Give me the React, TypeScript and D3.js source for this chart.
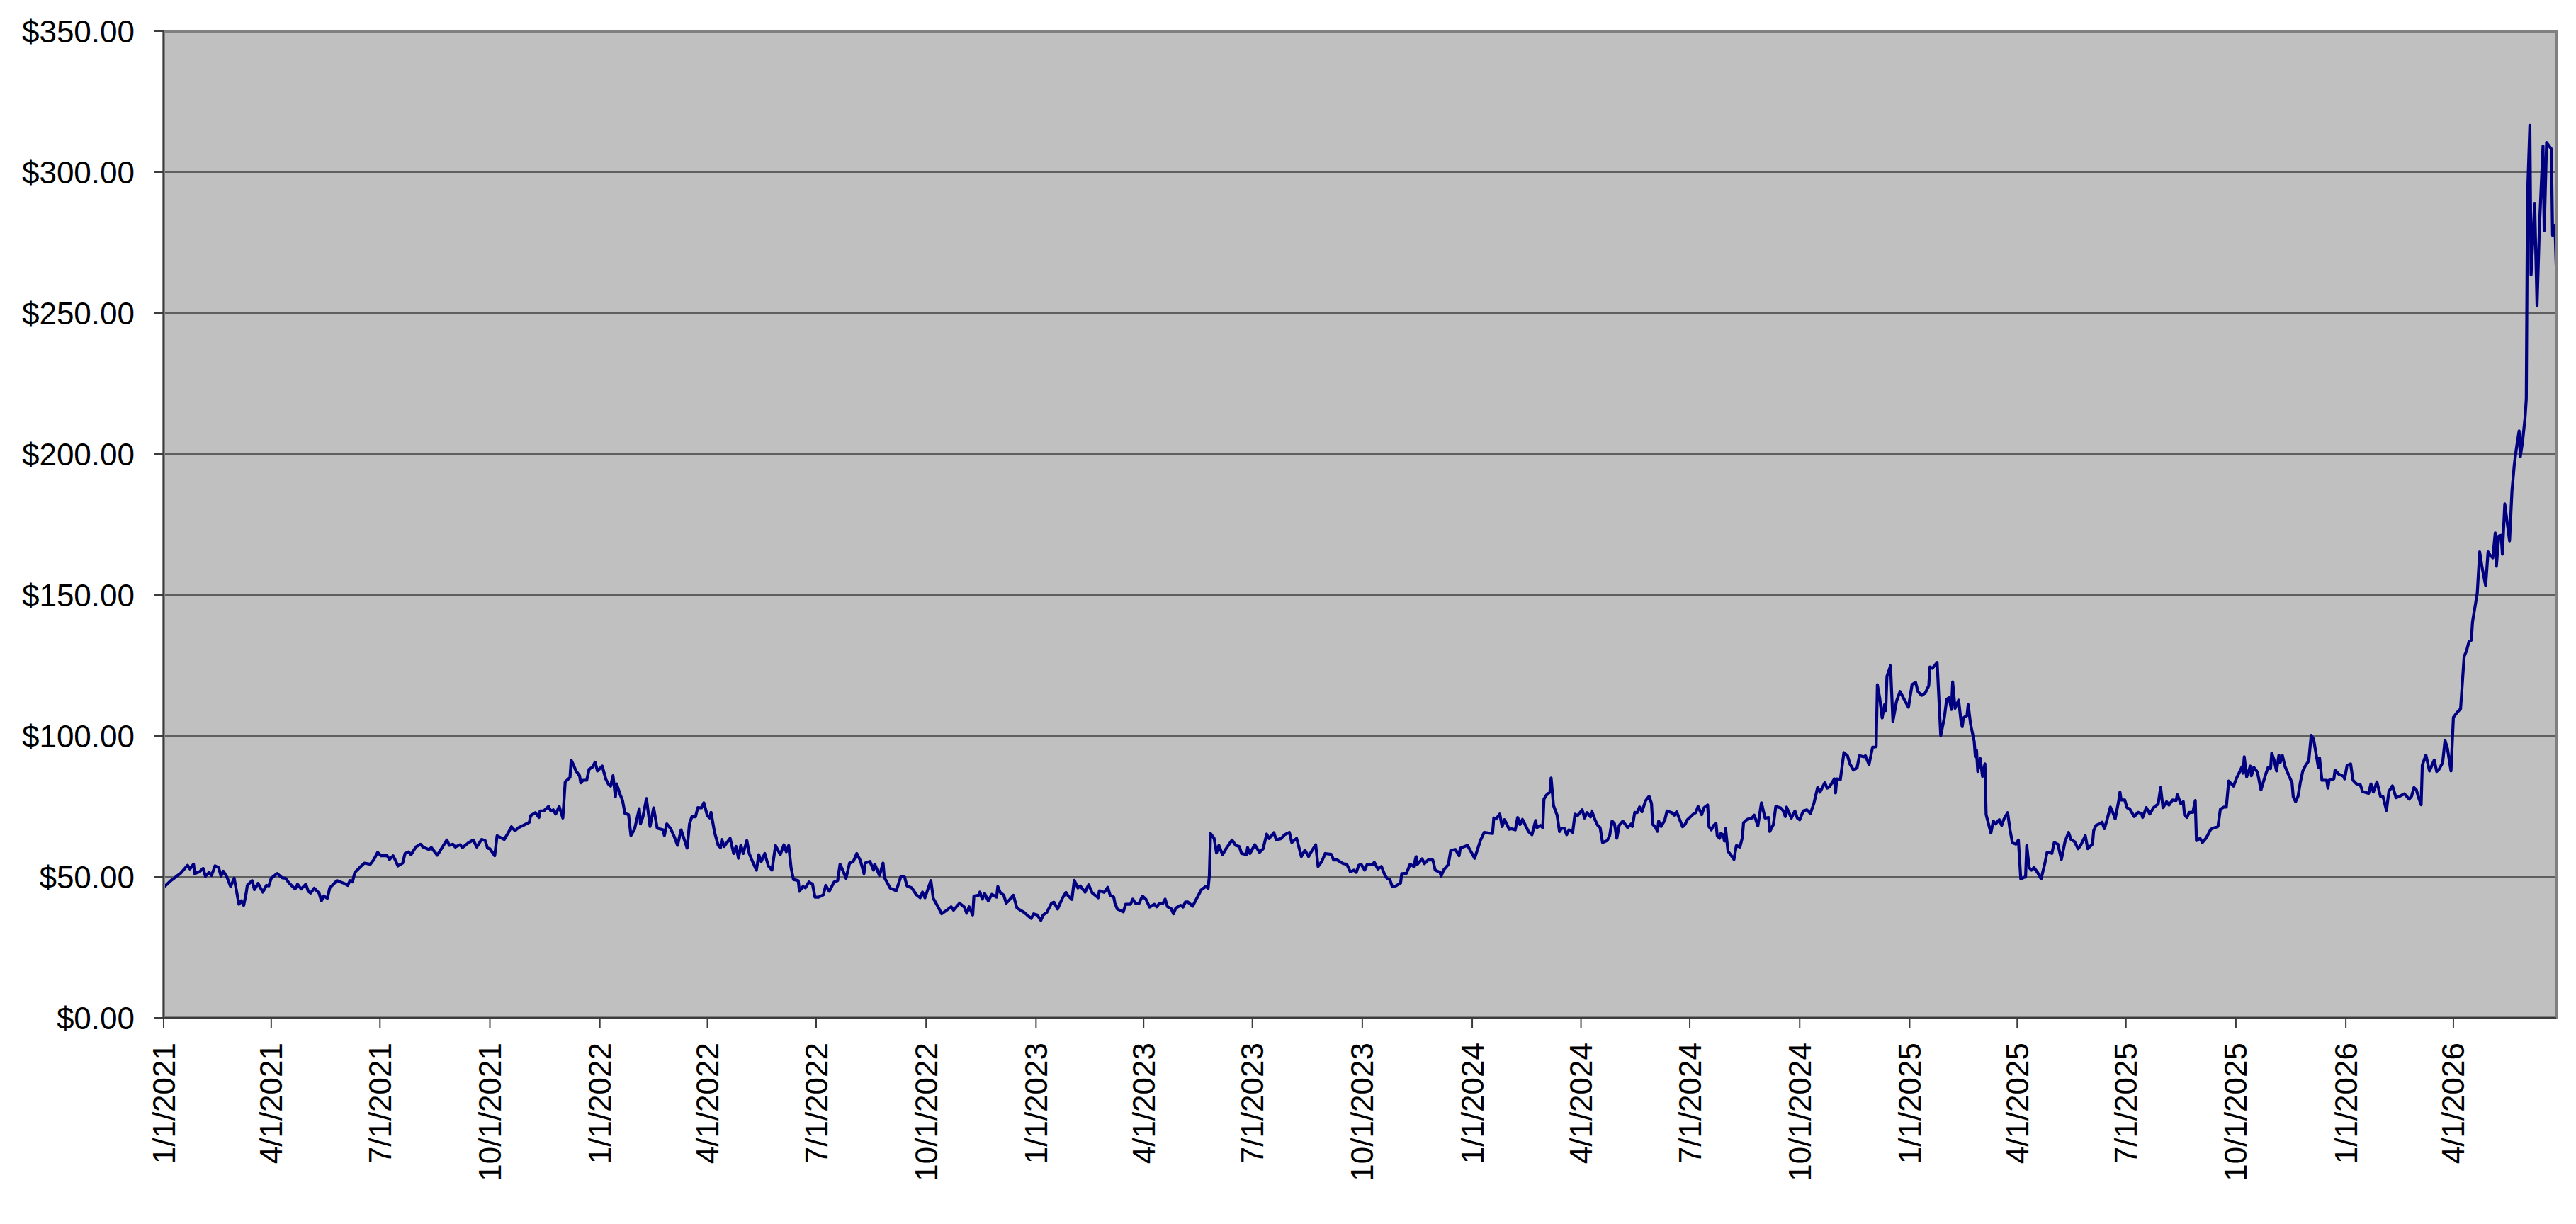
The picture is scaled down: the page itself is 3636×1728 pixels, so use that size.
import * as d3 from 'd3'

// closing prices: [days after 1/1/2021, price]
const startDate = new Date(2021, 0, 1)

const prices2021: [number, number][] = [
  [0, 46.3], [6, 48.7], [8, 49.3], [11, 50.3], [14, 51.2], [20, 54.1], [22, 52.8], [25, 54.5], [26, 51.2], [30, 51.8],
  [33, 53.0], [35, 50.2], [38, 51.6], [40, 50.5], [43, 53.9], [46, 53.3], [48, 50.3], [50, 52.0], [53, 49.9], [56, 46.6],
  [59, 49.5], [63, 40.3], [65, 41.5], [67, 39.9], [69, 44.1], [70, 47.0], [74, 48.7], [76, 45.5], [79, 47.7], [83, 44.6],
  [86, 47.0], [88, 46.8], [90, 49.5], [95, 51.2], [99, 49.7], [102, 49.5], [105, 47.8], [110, 45.7], [112, 47.4], [115, 45.7],
  [119, 47.4], [121, 44.9], [123, 44.3], [126, 46.0], [130, 44.3], [132, 41.5], [134, 43.2], [137, 42.4], [139, 46.1], [145, 48.7],
  [151, 47.7], [154, 47.0], [156, 48.7], [158, 48.2], [160, 51.6], [165, 53.7], [168, 54.9], [173, 54.5], [176, 56.2], [179, 58.7],
  [182, 57.5], [187, 57.5], [189, 56.2], [192, 57.5], [194, 55.8], [196, 53.9], [200, 54.9], [202, 58.3], [205, 58.9], [207, 57.9],
  [211, 60.6], [215, 61.6], [217, 60.6], [222, 59.7], [224, 60.4], [229, 57.7], [233, 60.4], [237, 63.1], [239, 61.2], [242, 61.6],
  [244, 60.6], [248, 61.4], [250, 60.4], [255, 62.1], [259, 63.1], [262, 60.6], [266, 63.3], [269, 62.9], [271, 60.2], [273, 60.0],
  [277, 57.5], [279, 64.6], [285, 63.3], [288, 65.4], [291, 67.8], [294, 66.4], [297, 67.5], [301, 68.3], [306, 69.4], [307, 71.7],
  [311, 72.8], [314, 71.1], [315, 73.4], [318, 73.4], [322, 75.0], [324, 73.4], [326, 73.8], [328, 72.3], [331, 75.0], [334, 70.9],
  [336, 83.7], [340, 85.3], [341, 91.4], [343, 89.7], [345, 87.6], [348, 85.9], [349, 83.4], [351, 84.3], [354, 84.3], [356, 88.2],
  [359, 89.0], [361, 90.7], [363, 87.6]
]

const prices2022: [number, number][] = [
  [367, 89.3], [370, 84.7], [372, 83.0], [374, 82.2], [376, 85.9], [378, 78.4], [379, 83.0], [382, 79.2], [384, 77.1], [386, 72.5],
  [389, 72.1], [391, 64.7], [394, 66.9], [398, 74.2], [399, 68.8], [401, 71.3], [404, 77.8], [407, 67.9], [410, 74.5], [413, 67.3],
  [418, 66.7], [419, 64.7], [421, 68.8], [424, 67.3], [427, 64.6], [430, 61.2], [433, 66.7], [438, 60.2], [440, 68.8], [442, 71.4],
  [445, 71.3], [447, 74.6], [450, 74.5], [452, 76.3], [455, 71.7], [457, 70.9], [458, 72.9], [461, 65.8], [464, 61.2], [466, 60.4],
  [467, 63.3], [469, 60.8], [474, 63.7], [477, 58.3], [479, 60.8], [481, 56.6], [483, 61.2], [485, 58.3], [488, 62.9], [490, 58.3],
  [492, 56.2], [496, 52.4], [498, 57.9], [500, 55.4], [503, 58.3], [506, 53.9], [509, 52.4], [512, 61.1], [516, 57.9], [519, 61.4],
  [521, 58.9], [523, 61.1], [525, 53.3], [527, 49.1], [531, 48.7], [532, 44.9], [535, 46.6], [537, 46.1], [540, 48.2], [543, 47.4],
  [545, 42.8], [548, 42.8], [552, 43.6], [554, 47.0], [557, 44.9], [561, 48.2], [564, 48.7], [566, 54.5], [569, 51.6], [571, 49.5],
  [574, 54.9], [577, 55.4], [580, 58.3], [583, 55.8], [586, 51.2], [587, 54.9], [591, 55.5], [594, 52.4], [595, 54.5], [599, 50.5],
  [602, 54.9], [603, 49.9], [608, 46.0], [613, 45.1], [617, 50.2], [620, 49.9], [622, 46.8], [626, 46.1], [630, 43.6], [633, 42.6],
  [635, 44.6], [637, 42.6], [642, 48.7], [644, 42.4], [648, 39.4], [651, 36.9], [654, 37.8], [659, 39.4], [661, 38.2], [666, 40.7],
  [670, 39.3], [672, 37.1], [674, 39.4], [677, 36.5], [678, 43.2], [682, 43.5], [683, 44.6], [685, 42.1], [687, 44.1], [690, 41.5],
  [693, 43.8], [697, 42.8], [698, 46.6], [700, 44.5], [703, 43.5], [705, 40.7], [707, 41.5], [711, 43.5], [714, 39.0], [718, 37.9],
  [720, 37.4], [723, 36.3], [726, 35.3], [728, 36.9]
]

const prices2023: [number, number][] = [
  [731, 36.5], [734, 34.6], [736, 36.5], [739, 37.4], [743, 40.7], [745, 41.0], [748, 38.6], [752, 42.4], [755, 44.5], [757, 43.2],
  [760, 42.0], [762, 48.8], [765, 46.1], [767, 46.8], [771, 44.6], [774, 47.2], [777, 44.3], [782, 42.6], [783, 45.1], [787, 44.5],
  [790, 46.3], [792, 43.5], [795, 42.8], [796, 40.7], [798, 38.6], [803, 37.6], [805, 40.3], [809, 40.3], [811, 42.1], [813, 40.7],
  [816, 40.5], [819, 43.2], [822, 42.0], [825, 39.3], [829, 40.3], [831, 39.4], [833, 40.5], [836, 40.5], [838, 42.1], [840, 39.4],
  [843, 38.8], [845, 36.9], [847, 39.0], [851, 39.9], [853, 39.3], [855, 41.1], [857, 41.1], [861, 39.6], [864, 42.0], [866, 43.6],
  [868, 45.3], [872, 46.6], [874, 46.0], [875, 50.3], [876, 65.4], [879, 63.7], [881, 58.5], [883, 61.2], [886, 57.9], [889, 60.0],
  [894, 63.1], [897, 61.2], [900, 60.8], [902, 58.3], [906, 57.9], [907, 60.4], [909, 58.3], [913, 61.4], [917, 58.7], [920, 60.0],
  [923, 65.2], [925, 63.6], [929, 65.7], [931, 63.1], [935, 63.6], [938, 65.0], [942, 65.8], [944, 62.2], [948, 63.7], [952, 57.2],
  [955, 59.5], [958, 57.2], [960, 58.7], [964, 61.4], [966, 53.7], [969, 55.4], [972, 58.3], [977, 58.0], [979, 56.0], [982, 56.0],
  [987, 54.7], [990, 54.5], [993, 51.8], [996, 52.4], [998, 51.6], [1000, 54.1], [1002, 54.5], [1005, 52.4], [1007, 54.4], [1012, 54.5],
  [1013, 55.2], [1016, 52.8], [1019, 53.7], [1022, 50.5], [1024, 49.3], [1026, 49.1], [1028, 46.6], [1031, 46.8], [1035, 47.8], [1036, 51.2],
  [1040, 51.3], [1043, 54.5], [1046, 53.7], [1048, 57.2], [1049, 54.4], [1053, 56.4], [1055, 54.7], [1058, 56.0], [1062, 56.0], [1064, 52.4],
  [1068, 51.6], [1069, 50.3], [1071, 52.4], [1075, 54.4], [1077, 59.4], [1081, 59.7], [1084, 57.5], [1085, 60.2], [1091, 61.2], [1094, 58.9]
]

const prices2024: [number, number][] = [
  [1097, 56.6], [1102, 63.1], [1105, 65.8], [1108, 65.6], [1112, 65.4], [1113, 70.9], [1115, 70.6], [1118, 72.3], [1120, 67.9], [1122, 70.3],
  [1126, 66.9], [1128, 67.1], [1131, 66.7], [1133, 71.1], [1135, 68.6], [1137, 70.4], [1140, 67.9], [1142, 66.1], [1145, 65.0], [1148, 70.0],
  [1149, 67.5], [1152, 68.3], [1154, 67.5], [1155, 77.6], [1157, 79.0], [1160, 80.1], [1161, 85.1], [1163, 75.3], [1166, 71.9], [1168, 66.1],
  [1170, 67.3], [1172, 67.3], [1174, 65.0], [1176, 66.7], [1179, 65.8], [1181, 72.3], [1183, 71.7], [1187, 73.8], [1189, 70.9], [1191, 72.8],
  [1194, 71.3], [1195, 73.4], [1198, 70.0], [1200, 68.3], [1202, 67.5], [1204, 62.2], [1208, 62.9], [1210, 64.7], [1212, 69.8], [1214, 68.9],
  [1216, 63.7], [1218, 68.3], [1221, 69.8], [1225, 67.5], [1228, 68.8], [1229, 67.9], [1231, 72.9], [1233, 72.8], [1235, 74.8], [1237, 73.1],
  [1240, 77.0], [1243, 78.6], [1245, 76.1], [1246, 68.6], [1248, 67.9], [1250, 66.2], [1251, 69.8], [1253, 67.9], [1256, 70.0], [1258, 73.4],
  [1262, 72.8], [1264, 71.9], [1266, 73.1], [1271, 67.8], [1273, 68.6], [1275, 70.3], [1280, 72.3], [1282, 72.8], [1284, 75.0], [1287, 72.1],
  [1289, 74.6], [1292, 75.5], [1293, 67.9], [1295, 66.7], [1297, 68.3], [1299, 68.9], [1300, 64.6], [1302, 63.7], [1303, 65.4], [1305, 65.0],
  [1306, 62.7], [1307, 67.1], [1309, 59.1], [1311, 58.0], [1314, 56.2], [1316, 61.1], [1319, 60.6], [1321, 63.9], [1322, 69.2], [1325, 70.4],
  [1329, 70.9], [1331, 71.9], [1334, 68.1], [1337, 76.3], [1340, 70.9], [1343, 71.1], [1344, 66.1], [1347, 68.6], [1349, 75.0], [1353, 74.5],
  [1355, 73.6], [1357, 71.4], [1358, 74.8], [1362, 70.9], [1365, 73.4], [1367, 70.9], [1369, 70.3], [1372, 73.4], [1375, 73.8], [1378, 72.5],
  [1381, 76.3], [1384, 81.7], [1386, 80.1], [1390, 83.4], [1392, 81.5], [1394, 82.0], [1398, 84.8], [1399, 79.8], [1400, 84.8], [1403, 84.5],
  [1406, 94.1], [1409, 93.0], [1411, 90.1], [1414, 87.9], [1417, 88.7], [1419, 93.0], [1423, 92.6], [1424, 93.0], [1427, 89.9], [1430, 96.0],
  [1433, 96.2], [1434, 118.2], [1436, 113.3], [1438, 106.4], [1440, 111.1], [1441, 109.0], [1442, 121.1], [1445, 124.9], [1447, 105.2], [1450, 112.3],
  [1453, 115.8], [1456, 113.3], [1460, 110.2]
]

const prices2025: [number, number][] = [
  [1463, 118.2], [1466, 119.0], [1468, 115.7], [1471, 114.4], [1474, 115.2], [1477, 117.8], [1478, 124.5], [1480, 124.0], [1482, 125.0], [1484, 126.1],
  [1487, 100.2], [1490, 106.4], [1492, 113.0], [1494, 113.6], [1496, 109.4], [1497, 119.2], [1499, 109.8], [1502, 112.7], [1504, 105.2], [1505, 103.3],
  [1506, 106.4], [1509, 107.3], [1510, 111.1], [1512, 104.1], [1515, 98.2], [1516, 92.6], [1517, 94.9], [1518, 87.4], [1520, 92.0], [1522, 85.7],
  [1524, 90.1], [1525, 72.1], [1529, 65.6], [1531, 69.8], [1533, 68.8], [1536, 70.3], [1538, 68.3], [1540, 70.6], [1543, 72.8], [1545, 66.7],
  [1547, 62.1], [1550, 61.6], [1552, 63.1], [1554, 49.3], [1557, 49.9], [1558, 49.9], [1559, 61.1], [1561, 53.3], [1563, 52.4], [1565, 53.3],
  [1568, 51.6], [1571, 49.3], [1574, 54.5], [1576, 58.7], [1579, 58.5], [1580, 58.3], [1582, 62.2], [1585, 61.6], [1588, 56.2], [1591, 62.5],
  [1594, 65.8], [1596, 63.3], [1599, 62.5], [1602, 60.0], [1604, 61.1], [1608, 64.6], [1610, 60.0], [1614, 61.6], [1615, 66.4], [1617, 68.3],
  [1620, 68.9], [1622, 69.4], [1624, 67.1], [1626, 70.0], [1629, 74.8], [1631, 72.9], [1633, 70.6], [1636, 77.1], [1637, 80.1], [1638, 77.3],
  [1641, 77.3], [1643, 74.5], [1645, 74.2], [1649, 71.4], [1652, 72.9], [1655, 72.5], [1656, 71.1], [1659, 74.6], [1662, 72.3], [1665, 74.5],
  [1669, 75.9], [1671, 81.7], [1673, 74.6], [1676, 76.7], [1678, 75.5], [1681, 77.3], [1684, 77.1], [1685, 79.2], [1688, 75.9], [1690, 76.7],
  [1691, 71.9], [1693, 71.1], [1695, 72.9], [1698, 72.9], [1700, 77.1], [1701, 62.9], [1704, 63.7], [1706, 62.2], [1709, 63.7], [1713, 66.9],
  [1715, 67.3], [1719, 67.9], [1721, 74.0], [1724, 74.8], [1726, 74.8], [1728, 84.0], [1732, 82.2], [1735, 85.5], [1736, 86.3], [1739, 89.0],
  [1740, 86.8], [1741, 92.6], [1743, 85.5], [1746, 89.3], [1747, 85.9], [1749, 88.9], [1752, 87.2], [1755, 80.9], [1759, 86.5], [1761, 88.9],
  [1763, 88.4], [1764, 93.9], [1766, 91.4], [1768, 87.6], [1770, 93.2], [1771, 90.5], [1773, 93.0], [1775, 89.3], [1778, 86.3], [1781, 83.4],
  [1782, 78.4], [1784, 76.7], [1786, 78.6], [1788, 83.7], [1790, 87.6], [1792, 89.3], [1795, 91.2], [1797, 100.2], [1799, 98.9], [1803, 88.9],
  [1804, 92.2], [1806, 84.3], [1810, 84.3], [1811, 81.5], [1812, 84.3], [1816, 84.8], [1817, 87.9], [1820, 86.5], [1824, 85.7], [1825, 84.8]
]

const prices2026: [number, number][] = [
  [1827, 89.5], [1830, 90.1], [1832, 84.3], [1835, 83.0], [1838, 82.8], [1840, 80.3], [1844, 79.8], [1845, 79.6], [1847, 83.0], [1849, 80.1],
  [1852, 83.7], [1855, 78.6], [1857, 78.6], [1860, 73.6], [1862, 80.3], [1865, 82.3], [1868, 78.1], [1871, 78.6], [1875, 79.5], [1879, 77.6],
  [1881, 78.6], [1883, 81.7], [1885, 80.9], [1887, 78.0], [1889, 75.6], [1890, 89.7], [1893, 93.2], [1896, 87.6], [1900, 91.5], [1902, 87.4],
  [1904, 88.2], [1907, 90.5], [1909, 98.5], [1911, 95.6], [1914, 87.6], [1916, 106.6], [1919, 108.3], [1922, 109.6], [1925, 128.2], [1927, 130.2],
  [1929, 133.4], [1931, 134.0], [1932, 140.5], [1934, 145.6], [1936, 150.8], [1938, 165.3], [1940, 159.8], [1943, 153.3], [1945, 165.3], [1947, 164.0],
  [1949, 163.2], [1951, 172.0], [1952, 160.2], [1954, 170.9], [1956, 171.2], [1957, 164.5], [1959, 182.3], [1963, 169.2], [1965, 186.8], [1967, 196.4],
  [1969, 202.8], [1971, 208.2], [1972, 199.0], [1974, 204.8], [1976, 213.1], [1977, 219.5], [1978, 291.5], [1980, 316.6], [1981, 263.5], [1984, 288.9],
  [1986, 252.7], [1988, 280.6], [1991, 309.3], [1992, 279.3], [1994, 310.5], [1998, 308.2], [1999, 277.6], [2001, 281.2], [2002, 267.1]
]

const yTicks = [0, 50, 100, 150, 200, 250, 300, 350]

interface Point {
  date: Date
  value: number
}

export default function App() {
  const width = 3636
  const height = 1728
  const margin = { top: 44, right: 28, bottom: 291, left: 231 }

  const series: Point[] = [...prices2021, ...prices2022, ...prices2023, ...prices2024, ...prices2025, ...prices2026]
    .map(([d, v]) => ({ date: d3.timeDay.offset(startDate, d), value: v }))

  const x = d3.scaleTime()
    .domain(d3.extent(series, d => d.date) as [Date, Date])
    .range([margin.left, width - margin.right])

  const y = d3.scaleLinear()
    .domain([0, 350])
    .range([height - margin.bottom, margin.top])

  // quarterly date ticks, like the Excel date axis
  const xTicks = d3.timeMonth.every(3)!.range(startDate, d3.timeDay.offset(x.domain()[1], 1))
  const fmtDate = d3.timeFormat('%-m/%-d/%Y')
  const fmtMoney = d3.format('$.2f')

  const line = d3.line<Point>()
    .x(d => x(d.date))
    .y(d => y(d.value))

  const left = margin.left
  const right = width - margin.right
  const top = margin.top
  const bottom = height - margin.bottom
  const font = '"Liberation Sans", Arial, sans-serif'

  return (
    <>
      <style>{'body{margin:0;background:#fff}'}</style>
      <svg width={width} height={height} style={{ display: 'block', background: '#ffffff' }}>
        {/* plot area */}
        <rect x={left} y={top} width={right - left} height={bottom - top} fill="#c0c0c0" />

        {/* gridlines */}
        {yTicks.slice(1, -1).map(t => (
          <line key={t} x1={left} x2={right} y1={y(t)} y2={y(t)} stroke="#5f5f5f" strokeWidth={2} />
        ))}

        {/* price line */}
        <path d={line(series) ?? ''} fill="none" stroke="#000080" strokeWidth={4.2} strokeLinejoin="round" />

        {/* plot border */}
        <rect x={left} y={top} width={right - left} height={bottom - top} fill="none" stroke="#808080" strokeWidth={4} />

        {/* axis lines */}
        <line x1={left} x2={left} y1={top} y2={bottom} stroke="#3c3c3c" strokeWidth={2} />
        <line x1={left} x2={right} y1={bottom} y2={bottom} stroke="#3c3c3c" strokeWidth={2} />

        {/* y axis */}
        {yTicks.map(t => (
          <g key={t}>
            <line x1={left - 14} x2={left} y1={y(t)} y2={y(t)} stroke="#3c3c3c" strokeWidth={2} />
            <text
              x={190}
              y={y(t)}
              textAnchor="end"
              dominantBaseline="central"
              fontFamily={font}
              fontSize={44}
              fill="#000"
            >
              {fmtMoney(t)}
            </text>
          </g>
        ))}

        {/* x axis */}
        {xTicks.map(t => (
          <g key={t.getTime()}>
            <line x1={x(t)} x2={x(t)} y1={bottom} y2={bottom + 14} stroke="#3c3c3c" strokeWidth={2} />
            <text
              transform={`translate(${x(t)},${bottom + 35}) rotate(-90)`}
              textAnchor="end"
              dominantBaseline="central"
              fontFamily={font}
              fontSize={44}
              fill="#000"
            >
              {fmtDate(t)}
            </text>
          </g>
        ))}
      </svg>
    </>
  )
}
